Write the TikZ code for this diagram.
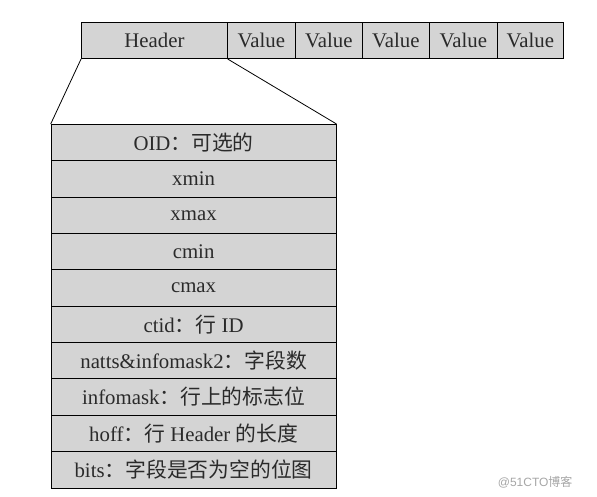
\documentclass[tikz,border=0pt]{standalone}
\usepackage{fontspec}
\setmainfont{Liberation Serif}
\newfontfamily\cjk{Noto Sans CJK SC}
\newfontfamily\wmfont{Liberation Sans}
\definecolor{cellgray}{HTML}{D4D4D4}
\definecolor{txt}{HTML}{2A2A2A}
\begin{document}
\begin{tikzpicture}[x=1pt,y=-1pt,
  cell/.style={draw=black, line width=0.8pt, fill=cellgray, inner sep=0pt, anchor=north west,
    text=txt, font=\fontsize{20.8}{20.8}\selectfont},
  topcell/.style={cell, minimum height=36pt},
  rowcell/.style={cell, minimum width=285pt, minimum height=36.35pt},
  fan/.style={draw=black, line width=0.8pt}]
\useasboundingbox (0,0) rectangle (597,497);
\node[topcell, minimum width=146pt] (hdr) at (81,22.3) {Header};
\node[topcell, minimum width=68pt] (v1) at (227,22.3) {Value};
\node[topcell, minimum width=67pt] (v2) at (295,22.3) {Value};
\node[topcell, minimum width=67pt] (v3) at (362,22.3) {Value};
\node[topcell, minimum width=68pt] (v4) at (429,22.3) {Value};
\node[topcell, minimum width=66pt] (v5) at (497,22.3) {Value};
\node[rowcell] (r1) at (50.7,124) {OID{\cjk ：可选的}};
\node[rowcell] (r2) at (50.7,160.35) {xmin};
\node[rowcell] (r3) at (50.7,196.7) {xmax};
\node[rowcell] (r4) at (50.7,233.05) {cmin};
\node[rowcell] (r5) at (50.7,269.4) {cmax};
\node[rowcell] (r6) at (50.7,305.75) {ctid{\cjk ：行} ID};
\node[rowcell] (r7) at (50.7,342.1) {natts\&infomask2{\cjk ：字段数}};
\node[rowcell] (r8) at (50.7,378.45) {infomask{\cjk ：行上的标志位}};
\node[rowcell] (r9) at (50.7,414.8) {hoff{\cjk ：行} Header {\cjk 的长度}};
\node[rowcell] (r10) at (50.7,451.15) {bits{\cjk ：字段是否为空的位图}};
\draw[fan] (hdr.south west) -- (r1.north west);
\draw[fan] (hdr.south east) -- (r1.north east);
\node[text=black!35, font=\wmfont\fontsize{12}{12}\selectfont, anchor=east] (wm) at (576,482) {@51CTO{\cjk 博客}};
\end{tikzpicture}
\end{document}
